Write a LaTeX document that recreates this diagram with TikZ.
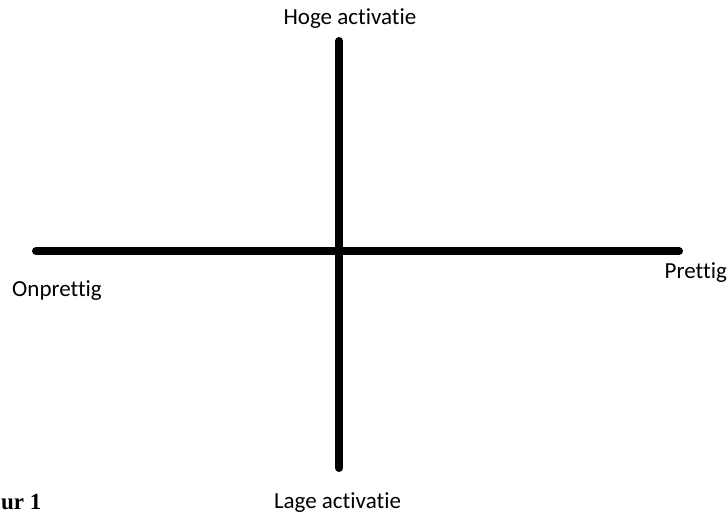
\documentclass[tikz,border=0pt]{standalone}
\usepackage{fontspec}
\setmainfont[RawFeature={-liga;-clig}]{Carlito}
\newfontfamily\capfont{Liberation Serif}
\begin{document}
\begin{tikzpicture}[x=1pt,y=-1pt,
  axis/.style={line width=8pt,line cap=round,black},
  lbl/.style={inner sep=0pt,font=\fontsize{23}{27}\selectfont},
  figlbl/.style={inner sep=0pt,font=\capfont\bfseries\fontsize{23}{27}\selectfont}]
\useasboundingbox (0,0) rectangle (728,513);
\coordinate (top) at (339,41);
\coordinate (bot) at (339,468);
\coordinate (left) at (36,251);
\coordinate (right) at (679,251);
\draw[axis] (top) -- (bot);
\draw[axis] (left) -- (right);
\node[lbl,anchor=base] (hoog) at (350,25) {Hoge activatie};
\node[lbl,anchor=base] (laag) at (337.5,508) {Lage activatie};
\node[lbl,anchor=base west] (onpr) at (12,296) {Onprettig};
\node[lbl,anchor=base east] (pret) at (727,278) {Prettig};
\node[figlbl,anchor=base west] (fig) at (1,509.5) {ur 1};
\end{tikzpicture}
\end{document}
